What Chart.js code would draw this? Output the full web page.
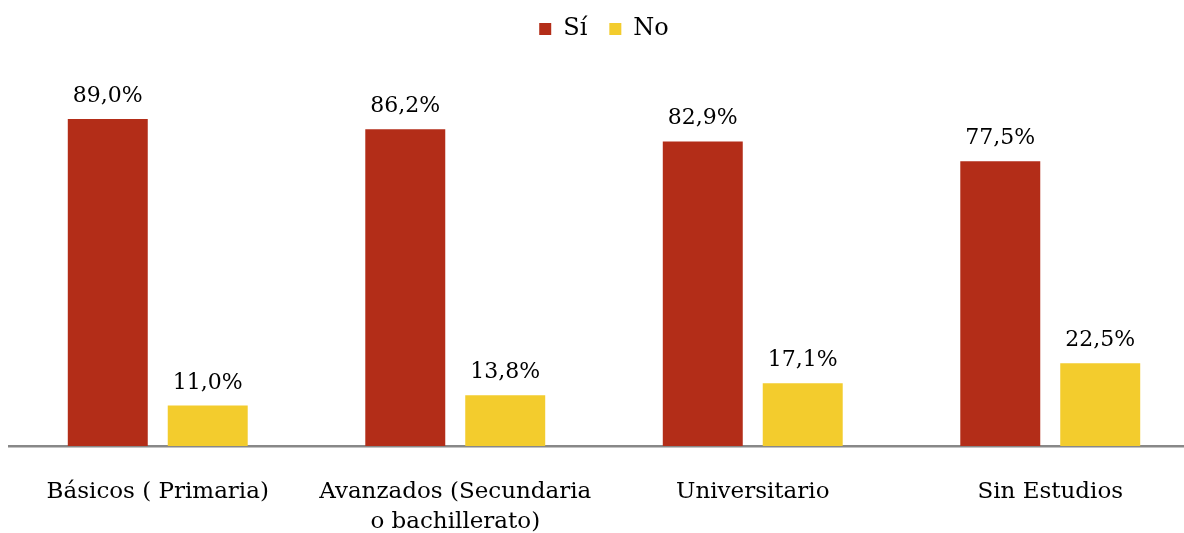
<!DOCTYPE html>
<html>
<head>
<meta charset="utf-8">
<script src="https://cdn.jsdelivr.net/npm/chart.js@4.4.0/dist/chart.umd.min.js"></script>
<style>
  html, body { margin: 0; padding: 0; background: #fff; overflow: hidden; }
  #wrap { width: 1200px; height: 533px; }
</style>
</head>
<body>
<div id="wrap"><canvas id="chart" width="1200" height="533"></canvas></div>
<script>
// categories and values
var categories = [
  'Básicos ( Primaria)',
  ['Avanzados (Secundaria', 'o bachillerato)'],
  'Universitario',
  'Sin Estudios'
];
var seriesNames = ['Sí', 'No'];
var valuesSi = [89.0, 86.2, 82.9, 77.5];
var valuesNo = [11.0, 13.8, 17.1, 22.5];

var serif = "'DejaVu Serif', 'Liberation Serif', serif";

// draws the % label above each bar
var barLabels = {
  id: 'barLabels',
  afterDatasetsDraw: function(chart) {
    var ctx = chart.ctx;
    ctx.save();
    ctx.font = '22px ' + serif;
    ctx.fillStyle = '#000';
    ctx.textAlign = 'center';
    ctx.textBaseline = 'alphabetic';
    chart.data.datasets.forEach(function(ds, i) {
      chart.getDatasetMeta(i).data.forEach(function(bar, j) {
        var txt = ds.data[j].toFixed(1).replace('.', ',') + '%';
        ctx.fillText(txt, bar.x, bar.y - 17);
      });
    });
    ctx.restore();
  }
};

var ctx = document.getElementById('chart').getContext('2d');
new Chart(ctx, {
  type: 'bar',
  data: {
    labels: categories,
    datasets: [
      { label: seriesNames[0], data: valuesSi, backgroundColor: '#B32D18' },
      { label: seriesNames[1], data: valuesNo, backgroundColor: '#F3CC2D' }
    ]
  },
  options: {
    responsive: false,
    animation: false,
    layout: { padding: { left: 9, right: 1, top: -5, bottom: 0 } },
    datasets: {
      bar: { categoryPercentage: 0.672, barPercentage: 0.8 }
    },
    plugins: {
      legend: {
        position: 'top',
        labels: {
          boxWidth: 12,
          boxHeight: 12,
          padding: 22,
          color: '#000',
          font: { family: serif, size: 24 }
        }
      },
      tooltip: { enabled: false }
    },
    scales: {
      x: {
        grid: { display: false, drawTicks: false },
        border: { display: true, color: '#888888', width: 2.5 },
        ticks: {
          color: '#000',
          padding: 31,
          maxRotation: 0,
          autoSkip: false,
          font: { family: serif, size: 23, lineHeight: 1.3 }
        },
        afterFit: function(scale) { scale.height = 87; }
      },
      y: {
        display: false,
        min: 0,
        max: 107.5
      }
    }
  },
  plugins: [barLabels]
});
</script>
</body>
</html>
